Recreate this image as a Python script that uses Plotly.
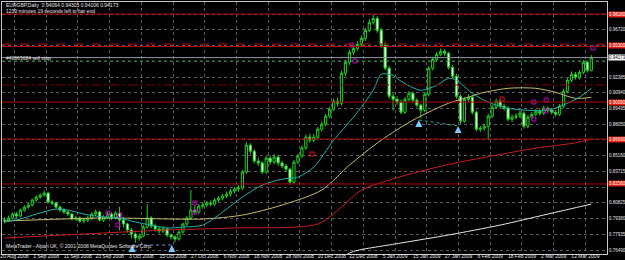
import plotly.graph_objects as go

# ---------------- data ----------------
date_labels = ["20 Aug 2008", "1 Sep 2008", "11 Sep 2008", "23 Sep 2008", "3 Oct 2008",
               "15 Oct 2008", "27 Oct 2008", "6 Nov 2008", "18 Nov 2008", "28 Nov 2008",
               "10 Dec 2008", "22 Dec 2008", "5 Jan 2009", "15 Jan 2009", "27 Jan 2009",
               "6 Feb 2009", "18 Feb 2009", "2 Mar 2009", "12 Mar 2009"]
date_label_bar = [0, 8, 16, 24, 32, 40, 48, 56, 64, 72, 80, 88, 96, 104, 112, 120, 128, 136, 144]

price_ticks = [0.76490, 0.77935, 0.79380, 0.80825, 0.82270, 0.83715, 0.85160, 0.86605,
               0.88050, 0.89495, 0.90940, 0.92385, 0.93830, 0.95275, 0.96720, 0.98165]
# labels hidden behind the price boxes on the axis
price_ticks_hidden = [0.82270, 0.86605, 0.93830, 0.95275, 0.98165]

opens = [0.7915,0.7924,0.7943,0.7979,0.7961,0.8016,0.8043,0.8062,0.8108,0.8135,
         0.8154,0.8172,0.8090,0.8080,0.8043,0.8016,0.7998,0.7979,0.7934,0.7943,
         0.7915,0.7924,0.7943,0.7979,0.7998,0.7924,0.7952,0.7979,0.7943,0.7989,
         0.7924,0.7888,0.7832,0.7796,0.7759,0.7777,0.7860,0.7943,0.7869,0.7842,
         0.7823,0.7842,0.7786,0.7768,0.7750,0.7814,0.7888,0.7943,0.8016,0.7998,
         0.8053,0.8062,0.8080,0.8071,0.8108,0.8126,0.8144,0.8163,0.8190,0.8209,
         0.8218,0.8365,0.8612,0.8557,0.8466,0.8448,0.8365,0.8493,0.8457,0.8503,
         0.8448,0.8420,0.8392,0.8273,0.8457,0.8512,0.8587,0.8686,0.8658,0.8686,
         0.8759,0.8805,0.8879,0.8943,0.9016,0.8998,0.9273,0.9374,0.9466,0.9502,
         0.9539,0.9594,0.9667,0.9741,0.9777,0.9667,0.9530,0.9319,0.9062,0.9034,
         0.9007,0.8915,0.9034,0.9089,0.9025,0.8980,0.8934,0.9080,0.9319,0.9401,
         0.9447,0.9475,0.9457,0.9328,0.9245,0.9062,0.8833,0.9034,0.9053,0.8915,
         0.8759,0.8768,0.8787,0.8879,0.8961,0.9016,0.8971,0.8952,0.8851,0.8870,
         0.8879,0.8906,0.8787,0.8870,0.8897,0.8924,0.8906,0.8952,0.8934,0.8915,
         0.8897,0.8971,0.9108,0.9209,0.9264,0.9236,0.9282,0.9374,0.9300]
highs = [0.7950,0.7965,0.7995,0.7998,0.8030,0.8060,0.8085,0.8120,0.8150,0.8170,
         0.8195,0.8185,0.8110,0.8095,0.8060,0.8035,0.8015,0.7990,0.7965,0.7960,
         0.7945,0.7960,0.7995,0.8020,0.8010,0.7970,0.7998,0.7995,0.8005,0.8045,
         0.7950,0.7900,0.7850,0.7810,0.7800,0.7880,0.8070,0.7960,0.7890,0.7860,
         0.7870,0.7855,0.7800,0.7785,0.7830,0.7900,0.7960,0.8200,0.8060,0.8070,
         0.8085,0.8100,0.8105,0.8125,0.8145,0.8165,0.8185,0.8210,0.8230,0.8245,
         0.8385,0.8640,0.8630,0.8575,0.8495,0.8465,0.8510,0.8520,0.8530,0.8520,
         0.8470,0.8440,0.8405,0.8475,0.8535,0.8610,0.8710,0.8720,0.8715,0.8780,
         0.8830,0.8900,0.8965,0.9040,0.9050,0.9295,0.9400,0.9490,0.9530,0.9570,
         0.9620,0.9690,0.9770,0.9815,0.9800,0.9690,0.9560,0.9340,0.9090,0.9060,
         0.9030,0.9055,0.9110,0.9105,0.9045,0.8995,0.9100,0.9340,0.9425,0.9470,
         0.9500,0.9495,0.9470,0.9350,0.9265,0.9080,0.9055,0.9080,0.9070,0.8930,
         0.8790,0.8810,0.8900,0.8985,0.9040,0.9035,0.8995,0.8970,0.8895,0.8905,
         0.8930,0.8925,0.8890,0.8920,0.8945,0.8950,0.8975,0.8970,0.8955,0.8935,
         0.8990,0.9130,0.9230,0.9290,0.9285,0.9300,0.9395,0.9390,0.9440]
lows = [0.7895,0.7910,0.7930,0.7940,0.7950,0.8000,0.8030,0.8050,0.8090,0.8120,
        0.8140,0.8075,0.8060,0.8030,0.8000,0.7980,0.7960,0.7920,0.7915,0.7900,
        0.7895,0.7905,0.7925,0.7960,0.7910,0.7905,0.7935,0.7925,0.7930,0.7830,
        0.7860,0.7810,0.7755,0.7715,0.7735,0.7765,0.7845,0.7850,0.7820,0.7800,
        0.7805,0.7765,0.7745,0.7720,0.7735,0.7800,0.7870,0.7925,0.7975,0.7980,
        0.8030,0.8040,0.8050,0.8055,0.8090,0.8105,0.8125,0.8140,0.8170,0.8185,
        0.8200,0.8350,0.8530,0.8445,0.8420,0.8345,0.8350,0.8430,0.8440,0.8425,
        0.8400,0.8370,0.8250,0.8255,0.8440,0.8495,0.8570,0.8635,0.8640,0.8665,
        0.8740,0.8785,0.8860,0.8925,0.8970,0.8980,0.9250,0.9350,0.9440,0.9480,
        0.9515,0.9570,0.9650,0.9720,0.9645,0.9505,0.9300,0.9040,0.8930,0.8985,
        0.8895,0.8900,0.9015,0.9005,0.8960,0.8860,0.8915,0.9060,0.9300,0.9380,
        0.9430,0.9435,0.9310,0.9225,0.9040,0.8805,0.8820,0.9010,0.8895,0.8740,
        0.8735,0.8745,0.8660,0.8860,0.8945,0.8950,0.8930,0.8830,0.8825,0.8850,
        0.8860,0.8765,0.8770,0.8850,0.8880,0.8885,0.8890,0.8915,0.8895,0.8875,
        0.8880,0.8955,0.9090,0.9190,0.9215,0.9215,0.9265,0.9280,0.9290]
closes = [0.7924,0.7943,0.7979,0.7961,0.8016,0.8043,0.8062,0.8108,0.8135,0.8154,
          0.8172,0.8090,0.8080,0.8043,0.8016,0.7998,0.7979,0.7934,0.7943,0.7915,
          0.7924,0.7943,0.7979,0.7998,0.7924,0.7952,0.7979,0.7943,0.7989,0.7924,
          0.7888,0.7832,0.7796,0.7759,0.7777,0.7860,0.7943,0.7869,0.7842,0.7823,
          0.7842,0.7786,0.7768,0.7750,0.7814,0.7888,0.7943,0.8016,0.7998,0.8053,
          0.8062,0.8080,0.8071,0.8108,0.8126,0.8144,0.8163,0.8190,0.8209,0.8218,
          0.8365,0.8612,0.8557,0.8466,0.8448,0.8365,0.8493,0.8457,0.8503,0.8448,
          0.8420,0.8392,0.8273,0.8457,0.8512,0.8587,0.8686,0.8658,0.8686,0.8759,
          0.8805,0.8879,0.8943,0.9016,0.8998,0.9273,0.9374,0.9466,0.9502,0.9539,
          0.9594,0.9667,0.9741,0.9777,0.9667,0.9530,0.9319,0.9062,0.9034,0.9007,
          0.8915,0.9034,0.9089,0.9025,0.8980,0.8934,0.9080,0.9319,0.9401,0.9447,
          0.9475,0.9457,0.9328,0.9245,0.9062,0.8833,0.9034,0.9053,0.8915,0.8759,
          0.8768,0.8787,0.8879,0.8961,0.9016,0.8971,0.8952,0.8851,0.8870,0.8879,
          0.8906,0.8787,0.8870,0.8897,0.8924,0.8906,0.8952,0.8934,0.8915,0.8897,
          0.8971,0.9108,0.9209,0.9264,0.9236,0.9282,0.9374,0.9300,0.9417]
bars = list(range(len(closes)))

# moving averages (bar index, price)
ma_teal_bar = [0, 4, 8, 13, 16, 20, 25, 29, 33, 37, 41, 45, 50, 55, 60, 65, 70, 74, 78, 83,
               88, 93, 95, 98, 100, 105, 109, 112, 114, 118, 122, 127, 132, 137, 142, 145, 148]
ma_teal_val = [0.7906, 0.7934, 0.7979, 0.8025, 0.8016, 0.7979, 0.7952, 0.7943, 0.7906, 0.7878,
               0.7851, 0.7860, 0.7878, 0.7998, 0.8135, 0.8245, 0.8300, 0.8319, 0.8411, 0.8658,
               0.8869, 0.9117, 0.9264, 0.9254, 0.9200, 0.9117, 0.9163, 0.9227, 0.9209, 0.9089,
               0.9007, 0.8952, 0.8933, 0.8933, 0.8998, 0.9053, 0.9135]
ma_yellow_bar = [0, 25, 50, 60, 70, 80, 87, 95, 103, 112, 117, 120, 127, 134, 139, 144, 148]
ma_yellow_val = [0.7915, 0.7943, 0.7934, 0.7970, 0.8062, 0.8200, 0.8429, 0.8658, 0.8842,
                 0.8998, 0.9053, 0.9089, 0.9135, 0.9135, 0.9098, 0.9043, 0.9053]
ma_red_bar = [0, 25, 41, 58, 79, 85, 90, 100, 112, 125, 134, 144, 148]
ma_red_val = [0.7759, 0.7805, 0.7833, 0.7851, 0.7888, 0.8043, 0.8199, 0.8324, 0.8435,
              0.8527, 0.8585, 0.8634, 0.8667]
ma_white_bar = [86, 88, 100, 112, 125, 137, 148]
ma_white_val = [0.7600, 0.7636, 0.7713, 0.7787, 0.7878, 0.7979, 0.8071]

# horizontal levels
red_solid_levels = [0.9818, 0.9519, 0.9009, 0.8669, 0.8256]
red_dash_levels = [0.9542]
red_dashdot_levels = [0.9166]
red_box_levels = [0.9818, 0.9530, 0.9009, 0.8669, 0.8256]
red_box_text = ["0.98180", "0.95300", "0.90090", "0.86690", "0.82560"]
bid_price = 0.94173
sell_stop_price = 0.9386

# trades and markers
buy_arrow_bar = [32.2, 42.2, 104.5, 114.4]
buy_arrow_price = [0.7695, 0.7695, 0.8844, 0.8789]
magenta_bar = [26.1, 29.1, 28.6, 48.0, 48.0, 133.5, 136.6, 136.6, 133.5, 148.4, 88.4, 87.6]
magenta_price = [0.7989, 0.7971, 0.7879, 0.8081, 0.7998, 0.9009, 0.9028, 0.8927, 0.8853,
                 0.9506, 0.9386, 0.9533]
red_mark_bar = [77.6, 125.5]
red_mark_price = [0.8531, 0.9037]

# ---------------- figure ----------------
FONT = "Liberation Sans"
TXT = "#E6E6E6"
AXFS = 4.5
fig = go.Figure()

fig.add_trace(go.Candlestick(
    x=bars, open=opens, high=highs, low=lows, close=closes,
    increasing=dict(line=dict(color="#22D022", width=1), fillcolor="#000000"),
    decreasing=dict(line=dict(color="#22D022", width=1), fillcolor="#FFFFFF"),
    whiskerwidth=0, showlegend=False, hoverinfo="skip"))

for xs, ys, col in [(ma_white_bar, ma_white_val, "#E8E8E8"),
                    (ma_red_bar, ma_red_val, "#C81E1E"),
                    (ma_yellow_bar, ma_yellow_val, "#C8BC6A"),
                    (ma_teal_bar, ma_teal_val, "#20B2AA")]:
    fig.add_trace(go.Scatter(x=xs, y=ys, mode="lines",
                             line=dict(color=col, width=1, shape="spline", smoothing=0.8),
                             showlegend=False, hoverinfo="skip"))

# trade lines
fig.add_trace(go.Scatter(x=buy_arrow_bar[0:2], y=buy_arrow_price[0:2], mode="lines",
                         line=dict(color="#6495ED", width=1, dash="dot"),
                         showlegend=False, hoverinfo="skip"))
fig.add_trace(go.Scatter(x=buy_arrow_bar[2:4], y=buy_arrow_price[2:4], mode="lines",
                         line=dict(color="#20B2AA", width=1, dash="dot"),
                         showlegend=False, hoverinfo="skip"))
fig.add_trace(go.Scatter(x=buy_arrow_bar, y=buy_arrow_price, mode="markers",
                         marker=dict(symbol="arrow-up", size=7, color="#7EC8FF"),
                         showlegend=False, hoverinfo="skip"))
fig.add_trace(go.Scatter(x=magenta_bar, y=magenta_price, mode="markers",
                         marker=dict(symbol="square-open", size=4, color="#C000C0",
                                     line=dict(width=1)),
                         showlegend=False, hoverinfo="skip"))
fig.add_trace(go.Scatter(x=red_mark_bar, y=red_mark_price, mode="markers",
                         marker=dict(symbol="square-open", size=4, color="#E01010",
                                     line=dict(width=1)),
                         showlegend=False, hoverinfo="skip"))

shapes = []
for lv in red_solid_levels:
    shapes.append(dict(type="line", xref="paper", x0=0, x1=1, yref="y", y0=lv, y1=lv,
                       line=dict(color="#B40000", width=1)))
for lv in red_dash_levels:
    shapes.append(dict(type="line", xref="paper", x0=0, x1=1, yref="y", y0=lv, y1=lv,
                       line=dict(color="#B40000", width=1, dash="dash")))
for lv in red_dashdot_levels:
    shapes.append(dict(type="line", xref="paper", x0=0, x1=1, yref="y", y0=lv, y1=lv,
                       line=dict(color="#7A0000", width=1, dash="dashdot")))
shapes.append(dict(type="line", xref="paper", x0=0, x1=1, yref="y", y0=bid_price, y1=bid_price,
                   line=dict(color="#8A98A8", width=1)))
shapes.append(dict(type="line", xref="paper", x0=0, x1=1, yref="y",
                   y0=sell_stop_price, y1=sell_stop_price,
                   line=dict(color="#1E8C3A", width=1, dash="dot")))

annotations = []
for lv, t in zip(red_box_levels, red_box_text):
    annotations.append(dict(xref="paper", x=1, xanchor="left", xshift=1, yref="y", y=lv,
                            text=t, showarrow=False, bgcolor="#E02010", borderpad=0,
                            font=dict(family=FONT, size=AXFS, color="#FFFFFF")))
annotations.append(dict(xref="paper", x=1, xanchor="left", xshift=1, yref="y", y=bid_price,
                        text="0.94173", showarrow=False, bgcolor="#FFFFFF", borderpad=0,
                        font=dict(family=FONT, size=AXFS, color="#000000")))
for txt, ypx in [("EURGBP,Daily  0.94064 0.94303 0.94106 0.94173", 5),
                 ("1239 minutes 19 seconds left to bar end", 11),
                 ("#41865684 sell stop", 58),
                 ("MetaTrader - Alpari UK, © 2001-2008 MetaQuotes Software Corp.", 246)]:
    annotations.append(dict(xref="paper", x=0.004, xanchor="left",
                            yref="paper", y=1 - (ypx - 2) / 252.0, yanchor="middle",
                            text=txt, showarrow=False,
                            font=dict(family=FONT, size=5, color=TXT)))

price_text = ["" if v in price_ticks_hidden else f"{v:.5f}" for v in price_ticks]

fig.update_layout(
    width=625, height=260,
    margin=dict(l=2, r=18, t=2, b=6, pad=0),
    paper_bgcolor="#000000", plot_bgcolor="#000000",
    showlegend=False,
    shapes=shapes, annotations=annotations,
    boxgap=0.2,
    xaxis=dict(range=[-0.63, 151.95], rangeslider=dict(visible=False),
               tickvals=[b + 2.5 for b in date_label_bar], ticktext=date_labels,
               tickfont=dict(family=FONT, size=5, color=TXT), ticks="",
               ticklabelstandoff=-3,
               showgrid=True, gridcolor="#5A5A5A", griddash="dot", gridwidth=1,
               showline=True, linecolor="#C8C8C8", linewidth=1, mirror=True,
               zeroline=False, automargin=False, fixedrange=True),
    yaxis=dict(range=[0.76122, 0.99284], side="right",
               tickvals=price_ticks, ticktext=price_text,
               tickfont=dict(family=FONT, size=AXFS, color=TXT), ticks="",
               ticklabelstandoff=0,
               showgrid=True, gridcolor="#5A5A5A", griddash="dot", gridwidth=1,
               showline=True, linecolor="#C8C8C8", linewidth=1, mirror=True,
               zeroline=False, automargin=False, fixedrange=True),
)

fig.write_html("out.html")
